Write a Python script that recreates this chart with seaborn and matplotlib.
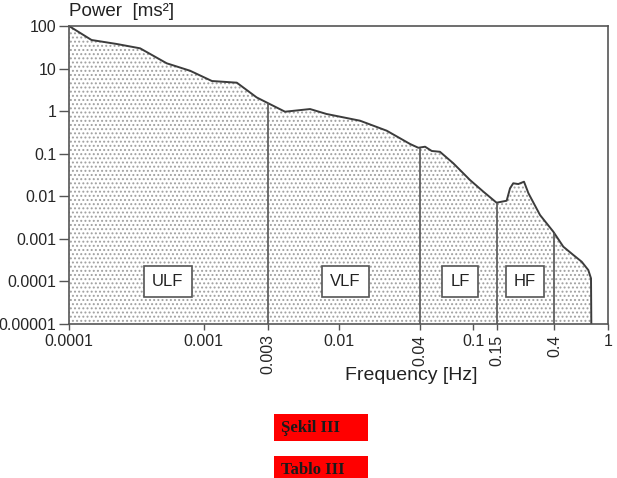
import numpy as np
import pandas as pd
import seaborn as sns
import matplotlib.pyplot as plt
from matplotlib.patches import Rectangle

# spectrum (Hz, ms^2)
freq = [1.0e-4, 1.47e-4, 2.26e-4, 3.37e-4, 5.31e-4, 7.91e-4, 1.15e-3, 1.76e-3,
        2.47e-3, 3.01e-3, 4.01e-3, 6.15e-3, 8.16e-3, 1.445e-2, 2.28e-2, 3.4e-2,
        3.91e-2, 4.39e-2, 4.92e-2, 5.66e-2, 7.11e-2, 9.46e-2, 0.119, 0.149,
        0.177, 0.1875, 0.198, 0.216, 0.238, 0.257, 0.313, 0.393, 0.466, 0.553,
        0.638, 0.714, 0.748, 0.752]
power = [100, 46.9, 37.8, 29.9, 13.3, 8.9, 5.1, 4.66,
         2.1, 1.53, 0.97, 1.12, 0.857, 0.596, 0.347, 0.169,
         0.138, 0.146, 0.116, 0.111, 0.0596, 0.0241, 0.0128, 0.00707,
         0.00787, 0.0154, 0.0202, 0.0194, 0.022, 0.0117, 0.00363, 0.00147, 0.000654, 0.000418,
         0.00029, 0.000185, 0.000118, 1e-5]

band_edges = [0.003, 0.04, 0.15, 0.4]
band_names = ["ULF", "VLF", "LF", "HF"]
band_label_x = [5.4e-4, 0.0113, 0.080, 0.242]

xticks = [1e-4, 1e-3, 3e-3, 1e-2, 4e-2, 0.1, 0.15, 0.4, 1]
xticklabels = ["0.0001", "0.001", "0.003", "0.01", "0.04", "0.1", "0.15", "0.4", "1"]
yticks = [1e2, 1e1, 1, 1e-1, 1e-2, 1e-3, 1e-4, 1e-5]
yticklabels = ["100", "10", "1", "0.1", "0.01", "0.001", "0.0001", "0.00001"]

df = pd.DataFrame({"freq": freq, "power": power})

sns.set_style("white")
plt.rcParams["font.family"] = ["Liberation Sans", "DejaVu Sans"]
plt.rcParams["hatch.color"] = "#9a9a9a"
plt.rcParams["hatch.linewidth"] = 0.9

fig = plt.figure(figsize=(6.17, 4.78), dpi=100)
ax = fig.add_axes([69/617, 1 - 324/478, 539/617, 298/478])

ax.fill_between(df["freq"], df["power"], 1e-5, facecolor="white", edgecolor="#a0a0a0",
                hatch="....", linewidth=0)
sns.lineplot(data=df, x="freq", y="power", ax=ax, color="#3c3c3c", linewidth=1.4)

# band boundaries up to the curve
lf = np.log10(df["freq"].values)
lp = np.log10(df["power"].values)
for e in band_edges:
    top = 10 ** np.interp(np.log10(e), lf, lp)
    ax.vlines(e, 1e-5, top, color="#555555", linewidth=1.2)

for name, x in zip(band_names, band_label_x):
    ax.text(x, 1e-4, name, ha="center", va="center", fontsize=12, color="#222222",
            bbox=dict(boxstyle="square,pad=0.5", facecolor="white", edgecolor="#555555", linewidth=1.2))

ax.set_xscale("log")
ax.set_yscale("log")
ax.set_xlim(1e-4, 1)
ax.set_ylim(1e-5, 100)
ax.set_xticks(xticks, xticklabels)
ax.set_yticks(yticks, yticklabels)
ax.minorticks_off()
for lab in ax.get_xticklabels():
    if lab.get_text() in ("0.003", "0.04", "0.15", "0.4"):
        lab.set_rotation(90)
        lab.set_va("top")
ax.tick_params(axis="y", direction="out", length=7, width=1, color="#555555",
               labelsize=11.5, pad=2, left=True)
ax.tick_params(axis="x", direction="out", length=4.5, width=1, color="#555555",
               labelsize=11.5, pad=3, bottom=True)
for s in ax.spines.values():
    s.set_color("#555555")
    s.set_linewidth(1.2)

ax.set_xlabel("Frequency [Hz]", fontsize=14, color="#222222")
ax.xaxis.set_label_coords(0.635, -0.145)
ax.set_ylabel("")
ax.set_title("Power  [ms²]", loc="left", fontsize=13.5, color="#222222", pad=7)

# red caption boxes below the chart
for label, ytop in [("Şekil III", 414), ("Tablo III", 456)]:
    fig.patches.append(Rectangle((274/617, 1 - (ytop + 27)/478), 94/617, 27/478,
                                 transform=fig.transFigure, facecolor="red", edgecolor="none"))
    fig.text(281/617, 1 - (ytop + 14)/478, label, fontsize=12, fontweight="bold",
             family=["Liberation Serif", "DejaVu Serif"], va="center", ha="left", color="#1a1a1a")

fig.savefig("out.png", dpi=100)
